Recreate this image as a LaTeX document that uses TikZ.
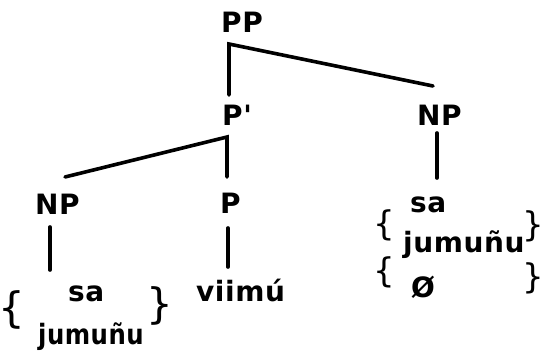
\documentclass[tikz,border=0pt]{standalone}
\usepackage{fontspec}
\usepackage{graphicx}
\newfontfamily\treefont{DejaVu Sans}[LetterSpace=2]
\begin{document}
\begin{tikzpicture}[x=1pt,y=-1pt,
  lbl/.style={inner sep=0pt,anchor=base west,font=\treefont\bfseries\fontsize{28}{34}\selectfont},
  brc/.style={inner sep=0pt,anchor=center,font=\treefont\fontsize{#1}{40}\selectfont},
  branch/.style={line width=3.6pt,line cap=round,line join=miter}]
\useasboundingbox (0,0) rectangle (544,353);
% labels
\node[lbl] (PP)  at (221,33) {PP};
\node[lbl] (Pb)  at (222,125) {P'};
\node[lbl] (NPr) at (417,125) {NP};
\node[lbl] (NPl) at (35,214) {NP};
\node[lbl] (P)   at (220,213) {P};
\node[lbl] (saL) at (68,301) {sa};
\node[lbl] (juL) at (38,344) {\scalebox{0.87}[1]{jumuñu}};
\node[lbl] (vi)  at (196,301) {viimú};
\node[lbl] (saR) at (410,212) {sa};
\node[lbl] (juR) at (403,252) {jumuñu};
\node[lbl] (zeR) at (411,297) {Ø};
% braces
\node[brc=42] (bL1) at (12,310) {\makebox[0.38em]{\{}};
\node[brc=42] (bL2) at (160,306) {\makebox[0.38em]{\}}};
\node[brc=34] (bR1) at (384,225) {\makebox[0.38em]{\{}};
\node[brc=34] (bR2) at (384,272) {\makebox[0.38em]{\{}};
\node[brc=34] (bR3) at (533,226) {\makebox[0.38em]{\}}};
\node[brc=34] (bR4) at (533,278) {\makebox[0.38em]{\}}};
% branch points
\coordinate (ppT) at (229,44);
\coordinate (ppB) at (229,95);
\coordinate (nprT) at (433,86);
\coordinate (pbT) at (227,137);
\coordinate (pbB) at (227,177);
\coordinate (nplT) at (65,177);
\coordinate (nprA) at (437,133);
\coordinate (nprB) at (437,178);
\coordinate (nplA) at (50,227);
\coordinate (nplB) at (50,270);
\coordinate (pA) at (228,228);
\coordinate (pB) at (228,267);
% branches
\draw[branch] (ppB) -- (ppT) -- (nprT);
\draw[branch] (pbB) -- (pbT) -- (nplT);
\draw[branch] (nprA) -- (nprB);
\draw[branch] (nplA) -- (nplB);
\draw[branch] (pA) -- (pB);
\end{tikzpicture}
\end{document}
